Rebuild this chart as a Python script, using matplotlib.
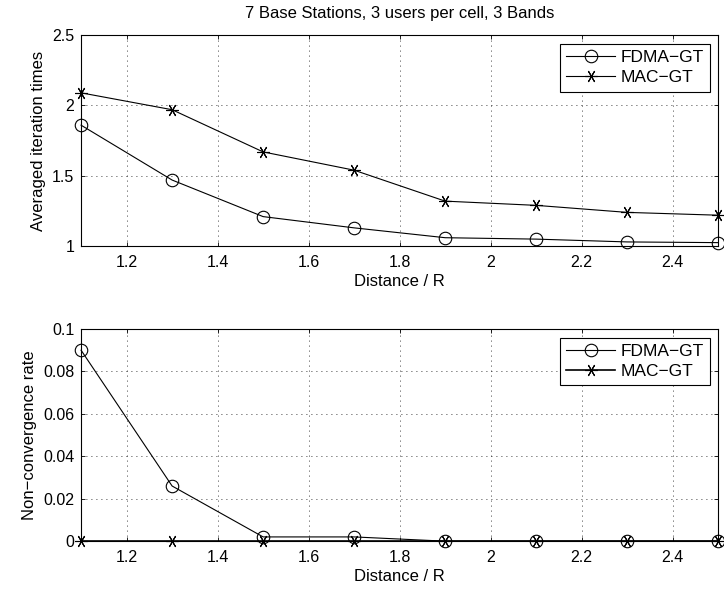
import numpy as np
import matplotlib
matplotlib.use('Agg')
import matplotlib.pyplot as plt

plt.rcParams['font.family'] = ['Liberation Sans', 'DejaVu Sans']
plt.rcParams['font.size'] = 12

# distance / R
distance = [1.1, 1.3, 1.5, 1.7, 1.9, 2.1, 2.3, 2.5]

# averaged iteration times
iter_fdma = [1.86, 1.47, 1.21, 1.13, 1.06, 1.05, 1.03, 1.025]
iter_mac = [2.09, 1.97, 1.67, 1.54, 1.32, 1.29, 1.24, 1.22]

# non-convergence rate
nc_fdma = [0.09, 0.026, 0.002, 0.002, 0.0, 0.0, 0.0, 0.0]
nc_mac = [0.0, 0.0, 0.0, 0.0, 0.0, 0.0, 0.0, 0.0]

ASTERISK = (6, 2, 90)  # matlab style '*', vertical stroke

fig = plt.figure(figsize=(7.24, 5.96), dpi=100)
ax1 = fig.add_axes([0.112, 0.587, 0.880, 0.354])
ax2 = fig.add_axes([0.112, 0.092, 0.880, 0.356])


def style(ax):
    ax.grid(True, color='black', linestyle=(0, (1, 5)), linewidth=0.6)
    ax.tick_params(direction='in', top=True, right=True, length=3, width=0.6,
                   labelsize=11.5)
    ax.tick_params(axis='x', pad=6.5)
    ax.tick_params(axis='y', pad=5)
    for s in ax.spines.values():
        s.set_linewidth(0.8)
    ax.set_xlim(1.1, 2.5)
    ax.set_xticks([1.2, 1.4, 1.6, 1.8, 2.0, 2.2, 2.4])
    ax.set_xticklabels(['1.2', '1.4', '1.6', '1.8', '2', '2.2', '2.4'])
    ax.set_xlabel('Distance / R', labelpad=2.5)
    leg = ax.legend(loc='upper right', fancybox=False, edgecolor='black',
                    framealpha=1, borderaxespad=0.5, handlelength=2.8,
                    handletextpad=0.3, labelspacing=0.3, fontsize=12.5,
                    borderpad=0.35)
    leg.get_frame().set_linewidth(0.8)


ax1.plot(distance, iter_fdma, color='black', lw=0.8, marker='o', ms=9,
         mfc='none', mew=0.8, label='FDMA\u2212GT', clip_on=False)
ax1.plot(distance, iter_mac, color='black', lw=0.8, marker=ASTERISK, ms=9,
         mfc='none', mew=0.8, label='MAC\u2212GT', clip_on=False)
ax1.set_ylim(1, 2.5)
ax1.set_yticks([1, 1.5, 2, 2.5])
ax1.set_yticklabels(['1', '1.5', '2', '2.5'])
ax1.set_ylabel('Averaged iteration times', labelpad=4)
ax1.set_title('7 Base Stations, 3 users per cell, 3 Bands', fontsize=12, pad=12)
style(ax1)

ax2.plot(distance, nc_fdma, color='black', lw=0.8, marker='o', ms=9,
         mfc='none', mew=0.8, label='FDMA\u2212GT', clip_on=False)
ax2.plot(distance, nc_mac, color='black', lw=1.2, marker=ASTERISK, ms=9,
         mfc='none', mew=0.8, label='MAC\u2212GT', clip_on=False)
ax2.set_ylim(0, 0.1)
ax2.set_yticks([0, 0.02, 0.04, 0.06, 0.08, 0.1])
ax2.set_yticklabels(['0', '0.02', '0.04', '0.06', '0.08', '0.1'])
ax2.set_ylabel('Non\u2212convergence rate', labelpad=4)
style(ax2)

fig.savefig('out.png', dpi=100)
